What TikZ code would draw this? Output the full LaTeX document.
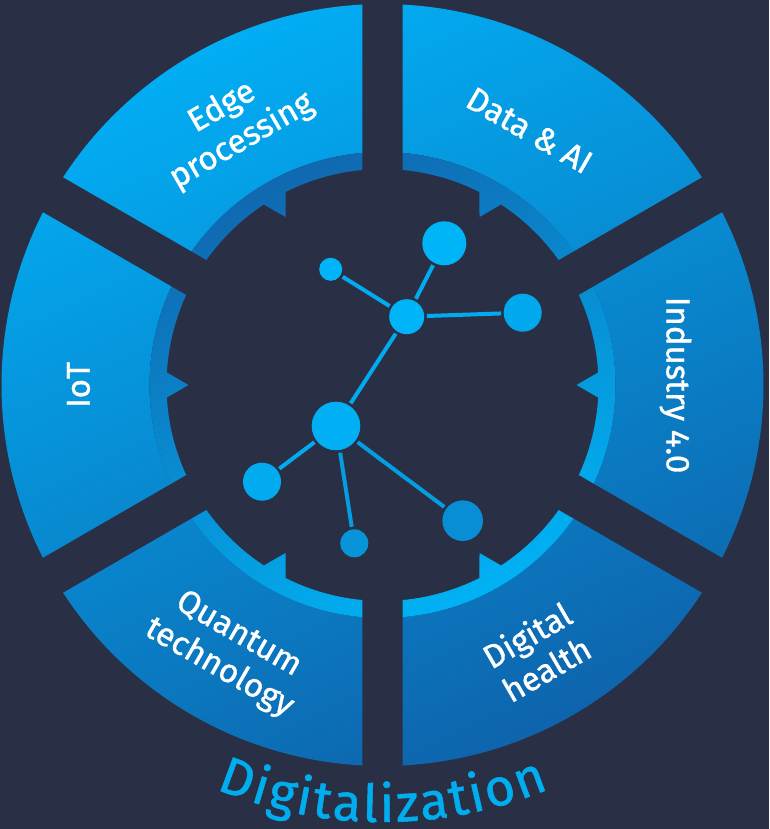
\documentclass[tikz,border=0pt]{standalone}
\usepackage{fontspec}
\setmainfont{Fira Sans}
\newfontfamily\lblfont[FakeBold=1]{Fira Sans}
\newfontfamily\ttlfont[FakeBold=1]{Fira Sans}
\usetikzlibrary{decorations.text}
\definecolor{bg}{RGB}{41,48,70}
\definecolor{segA}{RGB}{2,174,244}
\definecolor{segB}{RGB}{14,100,172}
\definecolor{bandA}{RGB}{16,104,176}
\definecolor{bandB}{RGB}{0,178,244}
\definecolor{netA}{RGB}{0,180,248}
\definecolor{netB}{RGB}{12,122,192}
\definecolor{titlecol}{RGB}{0,174,239}
\newcommand\titlefont{\ttlfont\fontsize{52}{56}\selectfont}
\begin{document}
\begin{tikzpicture}[x=1pt,y=1pt,
  seglabel/.style={text=white, font=\lblfont\fontsize{33}{39}\selectfont, align=center, inner sep=0pt},
  netnode/.style={circle, inner sep=0pt, draw=none},
  netlink/.style={line width=4pt, draw=netA!85!netB, shorten >=2.5pt, shorten <=2.5pt}]
\useasboundingbox (-382.5,-444) rectangle (386.5,385);
\fill[bg] (-382.5,-444) rectangle (386.5,385);
\pgfmathsetmacro\dR{asin(20.2/381)}
\pgfmathsetmacro\dM{asin(20.2/233)}
\pgfmathsetmacro\dI{asin(20.2/216)}
% main ring segments
\shade[top color=segA, bottom color=segB, shading angle=25]
  \foreach \t in {0,60,...,300} {
    ({\t-30+\dR}:381) arc[start angle={\t-30+\dR}, end angle={\t+30-\dR}, radius=381]
    -- ({\t+30-\dM}:233) arc[start angle={\t+30-\dM}, end angle={\t-30+\dM}, radius=233] -- cycle };
% inner bands with pointers
\shade[top color=bandA, bottom color=bandB, shading angle=25]
  \foreach \t in {0,60,...,300} {
    ({\t-30+\dM}:233) arc[start angle={\t-30+\dM}, end angle={\t+30-\dM}, radius=233]
    -- ({\t+30-\dI}:216) arc[start angle={\t+30-\dI}, end angle={\t+3.32}, radius=216]
    -- (\t:194) -- ({\t-3.32}:216)
    arc[start angle={\t-3.32}, end angle={\t-30+\dI}, radius=216] -- cycle };
% labels
\node[seglabel, rotate=30]  (edge)  at (120:301) {Edge\\processing};
\node[seglabel, rotate=-30] (data)  at (60:294)  {Data \& AI};
\node[seglabel, rotate=-90] (ind)   at (0:293)   {Industry 4.0};
\node[seglabel, rotate=30]  (dig)   at (-60:308) {Digital\\health};
\node[seglabel, rotate=-30] (quant) at (-120:308) {Quantum\\technology};
\node[seglabel, rotate=90]  (iot)   at (180:304) {IoT};
% network
\node[netnode, minimum size=44pt, fill=netA]          (n1) at (61.8,141.7) {};
\node[netnode, minimum size=23pt, fill=netA]          (n2) at (-51.8,115.7) {};
\node[netnode, minimum size=35pt, fill=netA]          (n3) at (24.2,68.3) {};
\node[netnode, minimum size=38pt, fill=netA!80!netB]  (n4) at (140.2,72.3) {};
\node[netnode, minimum size=48.6pt, fill=netA!92!netB] (n5) at (-46.5,-41) {};
\node[netnode, minimum size=38pt, fill=netA!85!netB]  (n6) at (-120.5,-96.7) {};
\node[netnode, minimum size=28pt, fill=netA!45!netB]  (n7) at (-28.2,-158.3) {};
\node[netnode, minimum size=40.6pt, fill=netA!35!netB] (n8) at (80.2,-135.7) {};
\draw[netlink] (n3) -- (n2);
\draw[netlink] (n3) -- (n1);
\draw[netlink] (n3) -- (n4);
\draw[netlink] (n3) -- (n5);
\draw[netlink] (n5) -- (n6);
\draw[netlink, draw=netA!60!netB] (n5) -- (n7);
\draw[netlink, draw=netA!60!netB] (n5) -- (n8);
% title along arc
\path[decorate, decoration={text along path, text color=titlecol,
    text={|\titlefont|Digitalization}, text align={fit to path}}]
  (-112.4:437) arc[start angle=-112.4, end angle=-67.6, radius=437];
\end{tikzpicture}
\end{document}
